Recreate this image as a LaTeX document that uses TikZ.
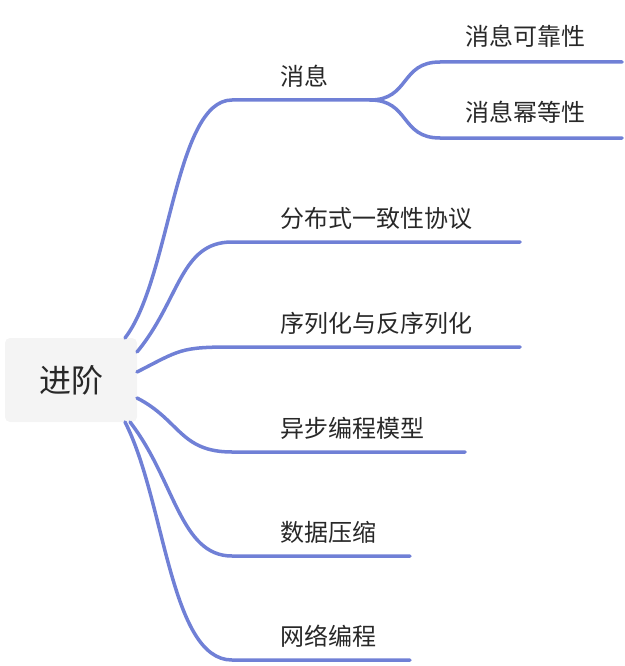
\documentclass[tikz,border=0pt]{standalone}
\usepackage{fontspec}
\setmainfont{Noto Sans CJK SC}
\begin{document}
\begin{tikzpicture}[x=1pt,y=-1pt,
  br/.style={draw=blue!45!violet!60!cyan, color={rgb,255:red,112;green,128;blue,214}, line width=3.5pt, line cap=round},
  lab/.style={anchor=south west, font=\fontsize{24}{26}\selectfont, text={rgb,255:red,40;green,40;blue,40}, inner sep=0pt}]
\useasboundingbox (0,0) rectangle (624,666);
\node[fill={rgb,255:red,244;green,244;blue,244}, rounded corners=5pt, minimum width=132pt, minimum height=84pt, font=\fontsize{32}{34}\selectfont, text={rgb,255:red,40;green,40;blue,40}] (root) at (71,380) {进阶};
\coordinate (e1) at (232,100); \coordinate (f1) at (370,100);
\coordinate (e2) at (232,242); \coordinate (f2) at (520,242);
\coordinate (e3) at (232,347); \coordinate (f3) at (520,347);
\coordinate (e4) at (232,452); \coordinate (f4) at (465,452);
\coordinate (e5) at (232,556); \coordinate (f5) at (410,556);
\coordinate (e6) at (232,660); \coordinate (f6) at (410,660);
\coordinate (s1) at (440,62); \coordinate (t1) at (622,62);
\coordinate (s2) at (440,138); \coordinate (t2) at (622,138);
\draw[br] (125,338) .. controls (170,280) and (175,100) .. (e1) -- (f1);
\draw[br] (137,352) .. controls (180,300) and (180,242) .. (e2) -- (f2);
\draw[br] (137,372) .. controls (180,350) and (180,347) .. (e3) -- (f3);
\draw[br] (137,398) .. controls (180,420) and (180,452) .. (e4) -- (f4);
\draw[br] (130,422) .. controls (175,480) and (180,556) .. (e5) -- (f5);
\draw[br] (125,422) .. controls (165,500) and (170,660) .. (e6) -- (f6);
\draw[br] (f1) .. controls (410,100) and (400,62) .. (s1) -- (t1);
\draw[br] (f1) .. controls (410,100) and (400,138) .. (s2) -- (t2);
\node[lab] (n1) at (280,88) {消息};
\node[lab] (n2) at (280,230) {分布式一致性协议};
\node[lab] (n3) at (280,335) {序列化与反序列化};
\node[lab] (n4) at (280,440) {异步编程模型};
\node[lab] (n5) at (280,544) {数据压缩};
\node[lab] (n6) at (280,648) {网络编程};
\node[lab] (m1) at (465,48) {消息可靠性};
\node[lab] (m2) at (465,124) {消息幂等性};
\end{tikzpicture}
\end{document}
